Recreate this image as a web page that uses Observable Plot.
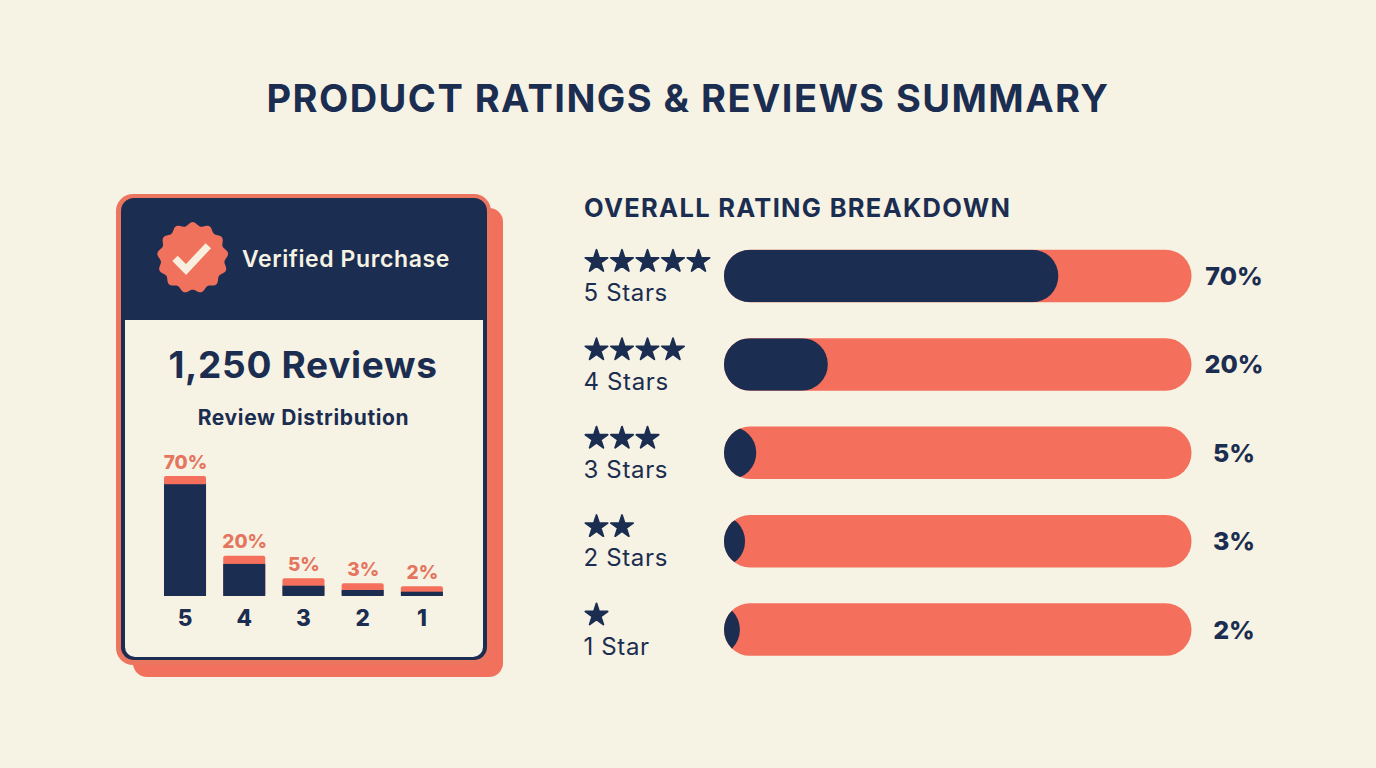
<!DOCTYPE html>
<html>
<head>
<meta charset="utf-8">
<script src="https://cdn.jsdelivr.net/npm/d3@7"></script>
<script src="https://cdn.jsdelivr.net/npm/@observablehq/plot@0.6"></script>
<style>
  html, body { margin: 0; padding: 0; background: #f7f3e4; width: 1376px; height: 768px; overflow: hidden; }
  body { position: relative; font-family: Inter, "Noto Sans", sans-serif; color: #1b2d50; }
  .abs { position: absolute; white-space: nowrap; }
  .c { transform: translate(-50%, -50%); }
  .plot-layer { position: absolute; left: 0; top: 0; }
  #title { left: 688px; top: 98px; font-size: 38px; font-weight: 700; letter-spacing: 1.45px; }
  #shadow { left: 133px; top: 208px; width: 370px; height: 469px; border-radius: 14px; background: #f2715c; }
  #outer { left: 116px; top: 194px; width: 375px; height: 471px; border-radius: 17px; background: #ec7560; }
  #navy { left: 121px; top: 198px; width: 366px; height: 462px; border-radius: 13px; background: #1b2d50; }
  #inner { left: 125px; top: 320px; width: 358px; height: 337px; border-radius: 0 0 10px 10px; background: #f7f3e4; }
  #verified { left: 242px; top: 259px; transform: translateY(-50%); color: #f7f3e4; font-size: 23px; font-weight: 600; letter-spacing: 0.6px; }
  #count { left: 303px; top: 364px; font-size: 37px; font-weight: 700; letter-spacing: 0.7px; }
  #dist { left: 303.5px; top: 417px; font-size: 21px; font-weight: 700; letter-spacing: 0.65px; }
  #heading { left: 584px; top: 206.5px; transform: translateY(-50%); font-size: 25.5px; font-weight: 700; letter-spacing: 1.3px; }
  #seal { left: 150px; top: 216px; }
</style>
</head>
<body>
<div id="shadow" class="abs"></div>
<div id="outer" class="abs"></div>
<div id="navy" class="abs"></div>
<div id="inner" class="abs"></div>
<svg id="seal" class="abs" width="86" height="84" viewBox="150 216 86 84"></svg>
<div id="title" class="abs c">PRODUCT RATINGS &amp; REVIEWS SUMMARY</div>
<div id="verified" class="abs">Verified Purchase</div>
<div id="count" class="abs c">1,250 Reviews</div>
<div id="dist" class="abs c">Review Distribution</div>
<div id="heading" class="abs">OVERALL RATING BREAKDOWN</div>
<script>
const navy = "#1b2d50", coral = "#f4705c", cream = "#f7f3e4", coralText = "#e4765f";

// Chart values
const ratingLabels = ["5 Stars", "4 Stars", "3 Stars", "2 Stars", "1 Star"];
const starCounts = [5, 4, 3, 2, 1];
const percentLabels = ["70%", "20%", "5%", "3%", "2%"];
// Drawn length of the dark part of each breakdown track, % of track
const trackFill = [71.5, 22.2, 6.9, 4.5, 3.4];

const miniCategories = ["5", "4", "3", "2", "1"];
// Drawn heights of the mini bars (on a scale where the tallest reads 70)
const miniTotal = [70, 23.5, 10.3, 7.4, 5.7];
const miniDark = [65.2, 18.7, 6, 3.5, 2.5];

const W = 1376, H = 768;
const fontFamily = 'Inter, "Noto Sans", sans-serif';

// ---------- Badge decoration
(function () {
  const cx = 192.7, cy = 257.7, lobes = 13;
  const pts = d3.range(0, 360).map(i => {
    const t = i / 360 * 2 * Math.PI;
    const r = 33.8 + 1.8 * Math.cos(lobes * t);
    return [cx + r * Math.sin(t), cy - r * Math.cos(t)];
  });
  const seal = d3.select("#seal");
  seal.append("polygon").attr("points", pts.map(p => p.join(",")).join(" ")).attr("fill", "#f0725d");
  seal.append("polyline").attr("points", "175,258.3 186,269.5 208.3,245.7")
    .attr("fill", "none").attr("stroke", "#f8efdf").attr("stroke-width", 7.5);
})();

// ---------- Mini bar chart in the card
const mini = miniCategories.map((c, i) => ({c, total: miniTotal[i], dark: miniDark[i], label: percentLabels[i]}));
const miniPlot = Plot.plot({
  width: W, height: H,
  marginLeft: 155.4, marginRight: W - 451.5, marginTop: 476, marginBottom: H - 596,
  style: {background: "transparent", fontFamily},
  x: {domain: miniCategories, paddingInner: 0.29, paddingOuter: 0.145, round: false, axis: null},
  y: {domain: [0, 70], axis: null},
  marks: [
    Plot.barY(mini, {x: "c", y: "total", fill: coral, rx: 2}),
    Plot.barY(mini, {x: "c", y: "dark", fill: navy}),
    Plot.text(mini, {x: "c", y: "total", text: "label", dy: -14, fill: coralText, fontSize: 19, fontWeight: 800}),
    Plot.axisX({tickSize: 0, tickPadding: 14, fontSize: 22.5, fontWeight: 800, label: null, fill: navy, dx: -0.5})
  ]
});
miniPlot.classList.add("plot-layer");
document.body.appendChild(miniPlot);

// ---------- Breakdown tracks
const rows = ratingLabels.map((label, i) => ({label, fill: trackFill[i], pct: percentLabels[i], n: starCounts[i]}));
const rowMargins = {marginTop: 231.8, marginBottom: H - 673.8};
const yRow = {domain: ratingLabels, paddingInner: 0.406, paddingOuter: 0.203, round: false, axis: null};

const barPlot = Plot.plot({
  width: W, height: H, ...rowMargins,
  marginLeft: 724, marginRight: W - 1191.5,
  style: {background: "transparent", fontFamily},
  x: {domain: [0, 100], axis: null},
  y: yRow,
  marks: [
    Plot.barX(rows, {y: "label", x1: 0, x2: 100, fill: coral, rx: 26}),
    // The dark bar starts left of the track so its round end stays full height; it is clipped to the track
    Plot.barX(rows, {y: "label", x1: -12, x2: "fill", fill: navy, rx: 26}),
    Plot.text(rows, {y: "label", x: 100, dx: 42, dy: 0.5, text: "pct", fontSize: 25, fontWeight: 800, fill: navy})
  ]
});
barPlot.classList.add("plot-layer");
(function () {
  const ns = "http://www.w3.org/2000/svg";
  const [trackG, fillG] = barPlot.querySelectorAll('g[aria-label="bar"]');
  const clip = document.createElementNS(ns, "clipPath");
  clip.setAttribute("id", "track-clip");
  trackG.querySelectorAll("rect").forEach(r => clip.appendChild(r.cloneNode()));
  barPlot.appendChild(clip);
  fillG.setAttribute("clip-path", "url(#track-clip)");
})();
document.body.appendChild(barPlot);

// ---------- Stars and row labels
const stars = rows.flatMap(r => d3.range(1, r.n + 1).map(k => ({label: r.label, k})));
const starPlot = Plot.plot({
  width: W, height: H, ...rowMargins,
  marginLeft: 596, marginRight: W - 698,
  style: {background: "transparent", fontFamily, letterSpacing: "0.65px"},
  x: {domain: [1, 5], axis: null},
  y: yRow,
  marks: [
    Plot.dot(stars, {x: "k", y: "label", symbol: "star", r: 7, fill: navy, stroke: navy, strokeWidth: 1.8, strokeLinejoin: "round", dy: -15}),
    Plot.text(rows, {x: () => 1, y: "label", text: "label", dx: -13, dy: 17, textAnchor: "start", fontSize: 24, fontWeight: 400, fill: navy})
  ]
});
starPlot.classList.add("plot-layer");
document.body.appendChild(starPlot);
</script>
</body>
</html>
